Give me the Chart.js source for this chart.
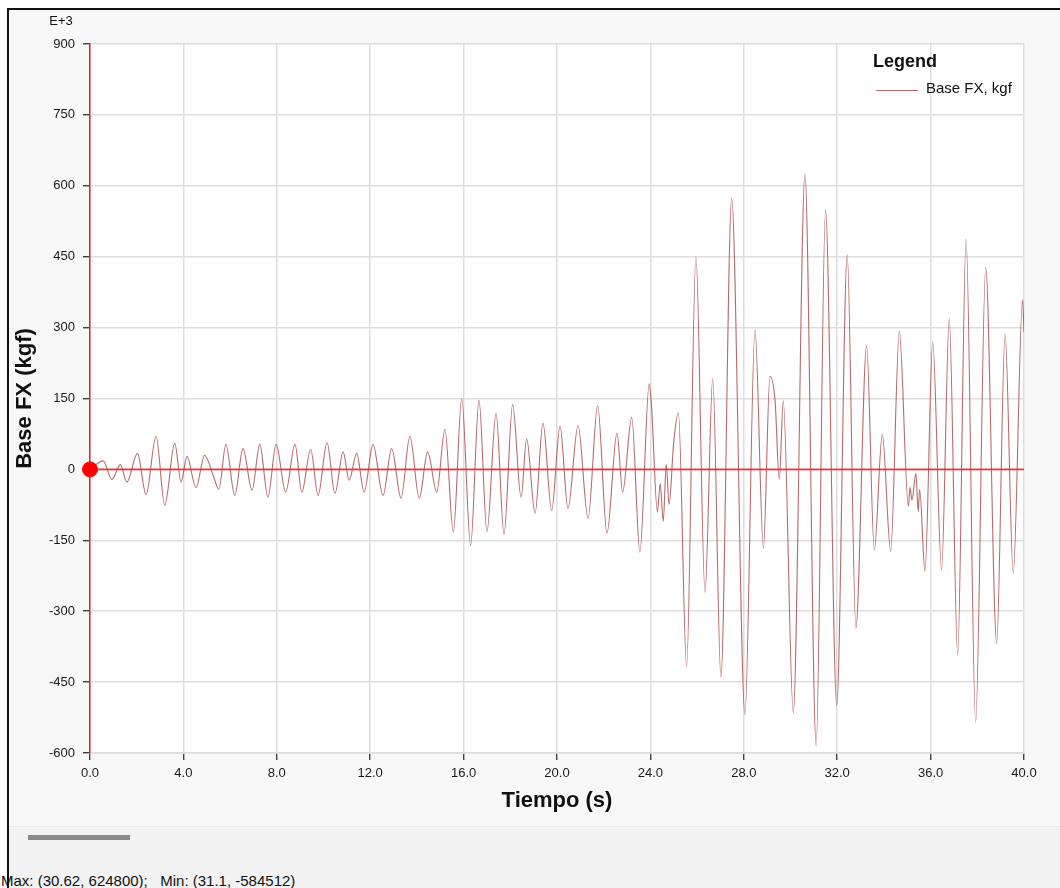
<!DOCTYPE html>
<html>
<head>
<meta charset="utf-8">
<title>Base FX</title>
<script src="https://cdn.jsdelivr.net/npm/chart.js@4.4.0/dist/chart.umd.min.js"></script>
<style>
  body { margin: 0; background: #fff; width: 1060px; height: 888px; overflow: hidden; position: relative; font-family: "Liberation Sans", Arial, sans-serif; }
  #marco { position: absolute; left: 7px; top: 8px; right: 0; bottom: 0; border-left: 2px solid #111; border-top: 2px solid #111; background: #f8f8f8; }
  #franja { position: absolute; left: 9px; top: 826px; right: 0; bottom: 0; background: #f2f2f2; border-top: 1px solid #e8e8e8; }
  #barra { position: absolute; left: 28px; top: 835px; width: 102px; height: 5px; background: #8a8a8a; }
  #info { position: absolute; left: 1px; top: 872px; font-size: 15px; color: #111; white-space: pre; }
  #graficoFX { position: absolute; left: 0; top: 0; }
</style>
</head>
<body>
<div id="marco"></div>
<div id="franja"></div>
<div id="barra"></div>
<div id="info">Max: (30.62, 624800);   Min: (31.1, -584512)</div>
<canvas id="graficoFX" width="1060" height="826"></canvas>
<script>
const tiempos = [0, 0.56, 0.94, 1.3, 1.58, 2.03, 2.4, 2.83, 3.2, 3.63, 3.9, 4.15, 4.54, 4.91, 5.27, 5.52, 5.82, 6.2, 6.55, 6.94,
  7.27, 7.62, 7.97, 8.38, 8.78, 9.07, 9.45, 9.77, 10.15, 10.49, 10.84, 11.1, 11.42, 11.74, 12.12, 12.55, 12.92, 13.32, 13.7, 14.1,
  14.46, 14.85, 15.2, 15.56, 15.92, 16.3, 16.66, 17.0, 17.39, 17.73, 18.1, 18.46, 18.7, 19.06, 19.4, 19.77, 20.13, 20.47, 20.9, 21.33,
  21.74, 22.14, 22.57, 22.81, 23.2, 23.55, 23.95, 24.05, 24.3, 24.42, 24.55, 24.68, 24.8, 25.0, 25.2, 25.55, 25.95, 26.34, 26.67, 27.02,
  27.48, 28.05, 28.48, 28.84, 29.12, 29.34, 29.52, 29.69, 30.12, 30.62, 31.1, 31.5, 31.98, 32.43, 32.8, 33.26, 33.59, 33.93, 34.29, 34.66,
  35.05, 35.12, 35.2, 35.37, 35.47, 35.53, 35.76, 36.09, 36.47, 36.8, 37.16, 37.52, 37.93, 38.36, 38.83, 39.19, 39.54, 39.94, 40.0];

// Base FX en kgf x 1000 (E+3)
const baseFX = [0, 18, -21, 10, -27, 34, -53, 70, -76, 55, -27, 27, -38, 30, -12, -42, 53, -55, 44, -44,
  53, -59, 53, -48, 53, -48, 42, -55, 57, -51, 37, -23, 34, -48, 53, -55, 44, -61, 70, -61,
  37, -48, 85, -133, 150, -161, 146, -132, 119, -137, 137, -59, 65, -93, 98, -87, 91, -83, 93, -104,
  135, -135, 77, -48, 110, -175, 181, 132, -90, -30, -110, 11, -74, 59, 120, -418, 450, -260, 193, -440,
  573, -519, 296, -167, 197, 145, -21, 145, -515, 625, -585, 549, -499, 454, -336, 262, -171, 74, -173, 292,
  -78, -38, -65, -9, -90, -42, -216, 270, -212, 319, -393, 488, -535, 427, -369, 287, -220, 359, 290];

const ticksX = [0, 4, 8, 12, 16, 20, 24, 28, 32, 36, 40];
const ticksY = [-600, -450, -300, -150, 0, 150, 300, 450, 600, 750, 900];

const colorSerie = 'rgba(170, 80, 80, 0.85)';
const fuente = '"Liberation Sans", Arial, sans-serif';

const fondoBlanco = {
  id: 'fondoBlanco',
  beforeDraw(chart) {
    const { ctx, chartArea: a } = chart;
    ctx.save();
    ctx.fillStyle = '#ffffff';
    ctx.fillRect(a.left, a.top, a.right - a.left, a.bottom - a.top);
    ctx.restore();
  }
};

const leyenda = {
  id: 'leyenda',
  afterDraw(chart) {
    const ctx = chart.ctx;
    ctx.save();
    ctx.fillStyle = '#111';
    ctx.font = 'bold 18px ' + fuente;
    ctx.textBaseline = 'alphabetic';
    ctx.fillText('Legend', 873, 67);
    ctx.strokeStyle = colorSerie;
    ctx.lineWidth = 1;
    ctx.beginPath();
    ctx.moveTo(876, 90.5);
    ctx.lineTo(918, 90.5);
    ctx.stroke();
    ctx.font = '15px ' + fuente;
    ctx.textBaseline = 'middle';
    ctx.fillText('Base FX, kgf', 926, 89);
    // exponente del eje Y
    ctx.font = '13px ' + fuente;
    ctx.textAlign = 'center';
    ctx.fillText('E+3', 61, 21);
    ctx.restore();
  }
};

const ctx = document.getElementById('graficoFX').getContext('2d');
const grafico = new Chart(ctx, {
  type: 'line',
  data: {
    datasets: [
      {
        label: 'origen',
        data: [{ x: 0, y: 0 }],
        showLine: false,
        pointRadius: 7.5,
        pointBackgroundColor: '#ff0000',
        pointBorderColor: '#ff0000',
        clip: false,
        order: 0
      },
      {
        label: 'cero',
        data: [{ x: ticksX[0], y: 0 }, { x: ticksX[ticksX.length - 1], y: 0 }],
        borderColor: '#e83a3a',
        borderWidth: 1.8,
        pointRadius: 0,
        order: 1
      },
      {
        label: 'Base FX, kgf',
        data: tiempos.map((t, i) => ({ x: t, y: baseFX[i] })),
        borderColor: colorSerie,
        borderWidth: 1.1,
        pointRadius: 0,
        cubicInterpolationMode: 'monotone',
        order: 2
      }
    ]
  },
  options: {
    responsive: false,
    animation: false,
    devicePixelRatio: 1,
    layout: { padding: { left: 0, right: 36, top: 44, bottom: 8 } },
    plugins: { legend: { display: false }, tooltip: { enabled: false } },
    scales: {
      x: {
        type: 'linear',
        min: ticksX[0],
        max: ticksX[ticksX.length - 1],
        afterFit: s => { s.height = 65; },
        afterBuildTicks: s => { s.ticks = ticksX.map(v => ({ value: v })); },
        grid: { color: '#dedede', lineWidth: 1.5, tickColor: '#222', tickLength: 7, tickWidth: 1.2 },
        border: { color: '#dddddd', width: 1.5 },
        ticks: {
          color: '#1a1a1a', padding: 6, maxRotation: 0,
          font: { family: fuente, size: 13 },
          callback: v => Number(v).toFixed(1)
        },
        title: {
          display: true, text: 'Tiempo (s)', color: '#111',
          padding: { top: 0, bottom: 4 },
          font: { family: fuente, size: 22, weight: 'bold' }
        }
      },
      y: {
        min: ticksY[0],
        max: ticksY[ticksY.length - 1],
        afterFit: s => { s.width = 90; },
        afterBuildTicks: s => { s.ticks = ticksY.map(v => ({ value: v })); },
        grid: { color: '#dedede', lineWidth: 1.5, tickColor: '#222', tickLength: 7, tickWidth: 1.2 },
        border: { color: '#e82020', width: 1.5 },
        ticks: {
          color: '#1a1a1a', padding: 8,
          font: { family: fuente, size: 13 },
          callback: v => String(v)
        },
        title: {
          display: true, text: 'Base FX (kgf)', color: '#111',
          padding: { top: 12, bottom: 0 },
          font: { family: fuente, size: 22, weight: 'bold' }
        }
      }
    }
  },
  plugins: [fondoBlanco, leyenda]
});
</script>
</body>
</html>
